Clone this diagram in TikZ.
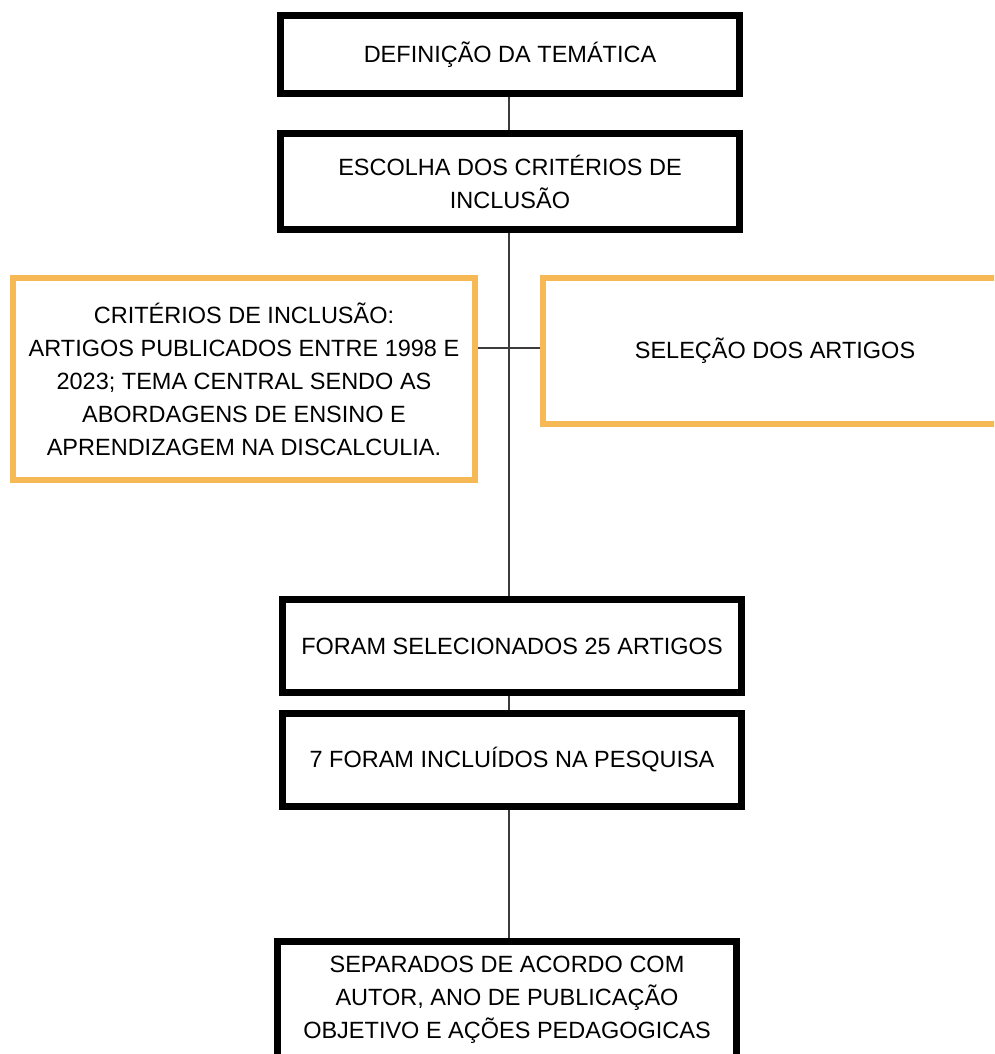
\documentclass[tikz,border=0pt]{standalone}
\usepackage{fontspec}
\setmainfont{Liberation Sans}
\usepackage{tikz}
\usetikzlibrary{positioning}
\definecolor{laranja}{RGB}{246,185,86}
\definecolor{linha}{RGB}{60,60,60}

\begin{document}
\begin{tikzpicture}[x=1pt, y=-1pt,
  caixa/.style={draw=black, line width=7pt, rectangle, align=center, inner sep=2pt,
    minimum width=459pt, font=\fontsize{23.5}{33}\selectfont},
  caixalaranja/.style={draw=laranja, line width=6pt, rectangle, align=center, inner sep=2pt,
    font=\fontsize{23.5}{33}\selectfont},
  liga/.style={draw=linha, line width=1.5pt}]
\clip (0,0) rectangle (994,1054);
\fill[white] (0,0) rectangle (994,1054);
\node[caixa, minimum height=78pt] (defi) at (510,54.5) {DEFINIÇÃO DA TEMÁTICA};
\node[caixa, minimum height=96pt] (escolha) at (510,181.5) {ESCOLHA DOS CRITÉRIOS DE\\INCLUSÃO};
\node[caixalaranja, minimum width=462pt, minimum height=202pt] (criterios) at (244,379)
  {CRITÉRIOS DE INCLUSÃO:\\ARTIGOS PUBLICADOS ENTRE 1998 E\\2023; TEMA CENTRAL SENDO AS\\ABORDAGENS DE ENSINO E\\APRENDIZAGEM NA DISCALCULIA.};
\node[caixalaranja, minimum width=464pt, minimum height=146pt] (selecao) at (775,351) {SELEÇÃO DOS ARTIGOS};
\node[caixa, minimum height=93pt] (foram) at (512,646) {FORAM SELECIONADOS 25 ARTIGOS};
\node[caixa, minimum height=93pt] (sete) at (512,760) {7 FORAM INCLUÍDOS NA PESQUISA};
\node[caixa, minimum height=117pt] (separados) at (507,1000)
  {SEPARADOS DE ACORDO COM\\AUTOR, ANO DE PUBLICAÇÃO\\OBJETIVO E AÇÕES PEDAGOGICAS};
\coordinate (cruz) at (509,348);
\draw[liga] (defi.south -| cruz) -- (escolha.north -| cruz);
\draw[liga] (escolha.south -| cruz) -- (foram.north -| cruz);
\draw[liga] (cruz -| criterios.east) -- (cruz -| selecao.west);
\draw[liga] (foram.south -| cruz) -- (sete.north -| cruz);
\draw[liga] (sete.south -| cruz) -- (separados.north -| cruz);
\end{tikzpicture}
\end{document}
